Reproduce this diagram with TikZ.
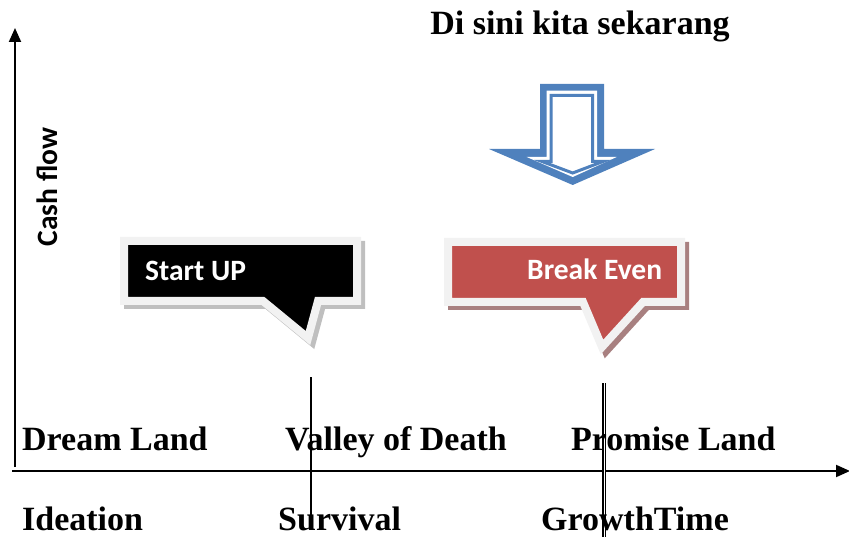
\documentclass[tikz,border=0pt]{standalone}
\usepackage{fontspec}
\setmainfont{Liberation Serif}
\newfontfamily\calfont{Carlito}
\usetikzlibrary{arrows.meta}
\definecolor{myblue}{HTML}{4F81BD}
\definecolor{myred}{HTML}{C0504D}
\definecolor{bordergray}{HTML}{F2F2F2}
\definecolor{shadowgray}{HTML}{BFBFBF}
\definecolor{shadowred}{HTML}{A88080}
\tikzset{
  axisline/.style={line width=2pt,-{Triangle[length=14pt,width=12pt]}},
  serifbig/.style={font=\fontsize{34}{40}\selectfont\bfseries,inner sep=0pt},
  sansbig/.style={font=\calfont\fontsize{29.5}{34}\selectfont\bfseries,inner sep=0pt},
  callshadow/.style={draw=#1,fill=#1,line width=8pt,line join=miter,miter limit=20},
  callbox/.style={draw=bordergray,fill=#1,line width=8pt,line join=miter,miter limit=20},
  marker/.style={line width=1.8pt}
}
\begin{document}
\begin{tikzpicture}[x=1pt,y=-1pt]
\useasboundingbox (0,0) rectangle (849,537);
% axes
\coordinate (yb) at (15,467);
\coordinate (yt) at (15,28);
\coordinate (xl) at (12,471);
\coordinate (xr) at (850,471);
\draw[axisline] (yb) -- (yt);
\draw[axisline] (xl) -- (xr);
% vertical markers
\coordinate (s1) at (311,377);
\coordinate (s2) at (311,527);
\coordinate (g1) at (604,383);
\coordinate (g2) at (604,540);
\draw[marker] (s1) -- (s2);
\draw[line width=1.2pt,double=white,double distance=0.8pt] (g1) -- (g2);
% title
\node[serifbig,anchor=base] (title) at (580,35) {Di sini kita sekarang};
% blue arrow
\fill[myblue] (540,84) -- (604,84) -- (604,149) -- (655,149) -- (572.7,185) -- (489,149) -- (540,149) -- cycle;
\fill[white] (546.7,90.7) -- (597,90.7) -- (597,157) -- (616.7,157) -- (572.7,177) -- (526.7,157) -- (546.7,157) -- cycle;
\draw[myblue,line width=3pt,fill=white,line join=miter] (551,95.5) -- (592.5,95.5) -- (592.5,161.5) -- (603,161.5) -- (572.7,173) -- (542,161.5) -- (551,161.5) -- cycle;
% callout Start UP
\begin{scope}[shift={(4,4)}]
\path[callshadow=shadowgray] (124,241) -- (357,241) -- (357,301) -- (318,301) -- (308,338) -- (263,301) -- (124,301) -- cycle;
\end{scope}
\path[callbox=black] (124,241) -- (357,241) -- (357,301) -- (318,301) -- (308,338) -- (263,301) -- (124,301) -- cycle;
\node[sansbig,text=white,anchor=base west] (start) at (145,281) {Start UP};
% callout Break Even
\begin{scope}[shift={(4,4)}]
\path[callshadow=shadowred] (448,242) -- (681,242) -- (681,302) -- (643,302) -- (602,347) -- (583,302) -- (448,302) -- cycle;
\end{scope}
\path[callbox=myred] (448,242) -- (681,242) -- (681,302) -- (643,302) -- (602,347) -- (583,302) -- (448,302) -- cycle;
\node[sansbig,text=white,anchor=base west] (breakeven) at (527,280) {Break Even};
% y label
\node[sansbig,rotate=90] (cash) at (47,187) {Cash flow};
% labels
\node[serifbig,anchor=base west] (dream) at (22,450) {Dream Land};
\node[serifbig,anchor=base west] (valley) at (285,450) {Valley of Death};
\node[serifbig,anchor=base west] (promise) at (571,450) {Promise Land};
\node[serifbig,anchor=base west,text depth=0pt] (ideation) at (22,530) {Ideation};
\node[serifbig,anchor=base west,text depth=0pt] (survival) at (278,530) {Survival};
\node[serifbig,anchor=base west,text depth=0pt] (growth) at (541,530) {GrowthTime};
\end{tikzpicture}
\end{document}
